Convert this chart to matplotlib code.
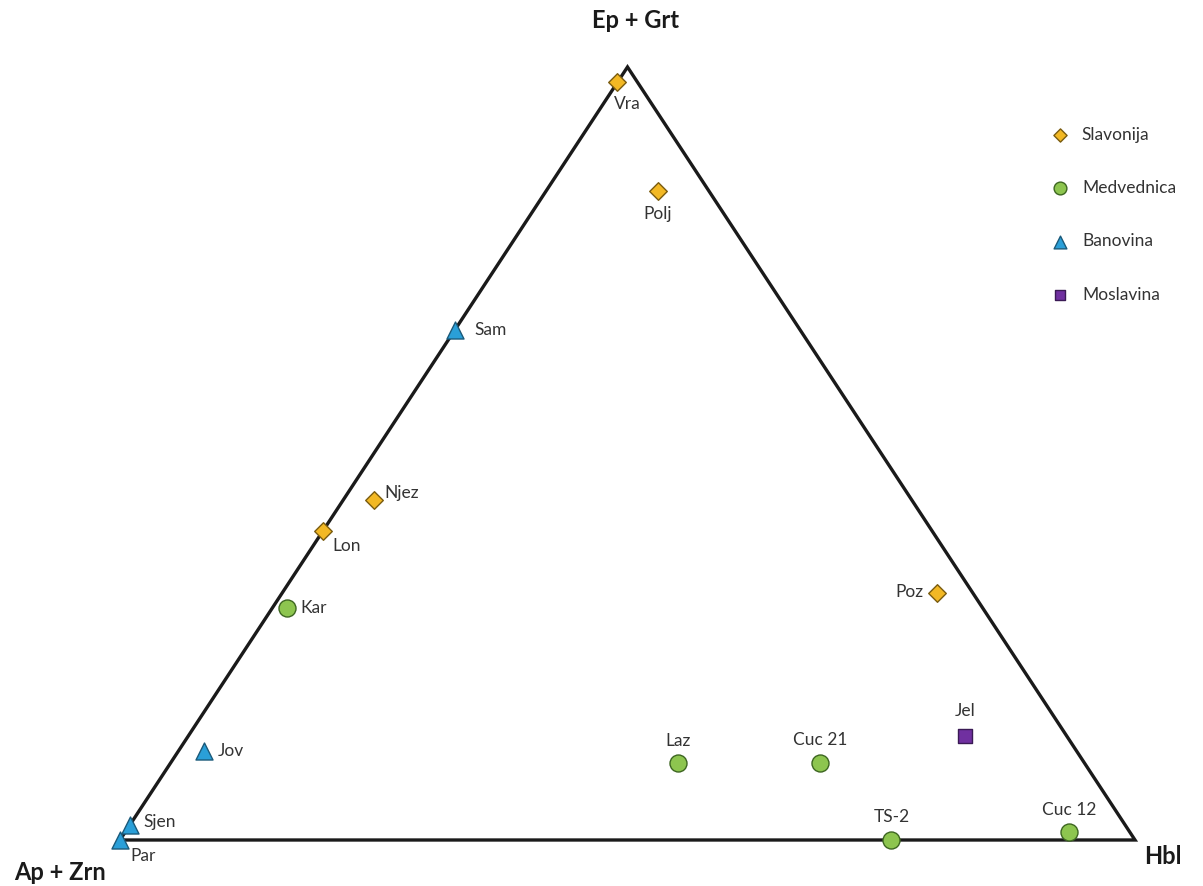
import numpy as np
import matplotlib
matplotlib.use("Agg")
import matplotlib.pyplot as plt

plt.rcParams['font.family'] = ['Lato', 'DejaVu Sans']

# ternary data in percent: Ap+Zrn, Hbl, Ep+Grt
slav_names = ["Vra", "Polj", "Njez", "Lon", "Poz"]
slav_apzrn = [2, 5, 53, 60, 3.5]
slav_hbl = [0, 11, 3, 0, 64.5]
slav_epgrt = [98, 84, 44, 40, 32]

medv_names = ["Kar", "Laz", "Cuc 21", "TS-2", "Cuc 12"]
medv_apzrn = [68.5, 40, 26, 24, 6]
medv_hbl = [1.5, 50, 64, 76, 93]
medv_epgrt = [30, 10, 10, 0, 1]

ban_names = ["Sam", "Jov", "Sjen", "Par"]
ban_apzrn = [34, 86, 98, 100]
ban_hbl = [0, 2.5, 0, 0]
ban_epgrt = [66, 11.5, 2, 0]

mos_names = ["Jel"]
mos_apzrn = [10]
mos_hbl = [76.5]
mos_epgrt = [13.5]

groups = ["Slavonija", "Medvednica", "Banovina", "Moslavina"]

# label offsets in pixels (dx, dy, ha)
offsets = {
    "Vra": (10, -22, "center"), "Polj": (0, -23, "center"), "Njez": (11, 7, "left"),
    "Lon": (9, -15, "left"), "Poz": (-14, 1, "right"),
    "Kar": (13, 0, "left"), "Laz": (0, 22, "center"), "Cuc 21": (0, 23, "center"),
    "TS-2": (0, 23, "center"), "Cuc 12": (0, 22, "center"),
    "Sam": (19, 0, "left"), "Jov": (14, 0, "left"), "Sjen": (13, 3, "left"),
    "Par": (10, -16, "left"), "Jel": (0, 25, "center"),
}


def tern(a, h, e):
    a = np.array(a, float); h = np.array(h, float); e = np.array(e, float)
    s = a + h + e
    return h / s + 0.5 * e / s, e / s


fig = plt.figure(figsize=(12.03, 8.86), dpi=100)
ax = fig.add_axes([0, 0, 1, 1])
ax.set_xlim(-120 / 1015, (1203 - 120) / 1015)
ax.set_ylim(-46 / 773, (886 - 46) / 773)
ax.axis("off")

# triangle frame
tx, ty = tern([100, 0, 0, 100], [0, 100, 0, 0], [0, 0, 100, 0])
ax.plot(tx, ty, color="#1a1a1a", lw=2.4, solid_joinstyle="miter", zorder=1)

styles = [
    dict(marker="D", s=80, c="#F2B824", edgecolors="#7a5c10"),
    dict(marker="o", s=150, c="#8DC54F", edgecolors="#3d6621"),
    dict(marker="^", s=150, c="#2A9FD8", edgecolors="#1b5a7a"),
    dict(marker="s", s=110, c="#7030A0", edgecolors="#3a1a55"),
]
data = [
    (slav_names, slav_apzrn, slav_hbl, slav_epgrt),
    (medv_names, medv_apzrn, medv_hbl, medv_epgrt),
    (ban_names, ban_apzrn, ban_hbl, ban_epgrt),
    (mos_names, mos_apzrn, mos_hbl, mos_epgrt),
]

handles = []
for g, st, (names, a, h, e) in zip(groups, styles, data):
    x, y = tern(a, h, e)
    sc = ax.scatter(x, y, linewidths=1.0, zorder=3, label=g, **st)
    handles.append(sc)
    for n, xi, yi in zip(names, x, y):
        dx, dy, ha = offsets[n]
        ax.annotate(n, (xi, yi), xytext=(dx, dy), textcoords="offset pixels",
                    ha=ha, va="center", fontsize=12.5, color="#333333")

# vertex labels
vx, vy = tern([0, 100, 0], [0, 0, 100], [100, 0, 0])
vlabels = [("Ep + Grt", 8, 46), ("Ap + Zrn", -60, -32), ("Hbl", 28, -16)]
for (txt, dx, dy), xv, yv in zip(vlabels, vx, vy):
    ax.annotate(txt, (xv, yv), xytext=(dx, dy), textcoords="offset pixels",
                ha="center", va="center", fontsize=17, fontweight="bold", color="#1a1a1a")

leg = fig.legend(handles=handles, loc="upper left", bbox_to_anchor=(1035 / 1203, 1 - 111 / 886),
                 frameon=False, fontsize=12.5, labelspacing=2.15, handletextpad=0.7,
                 markerscale=0.75, handlelength=1.1)
for t in leg.get_texts():
    t.set_color("#333333")

fig.savefig("out.png", dpi=100)
